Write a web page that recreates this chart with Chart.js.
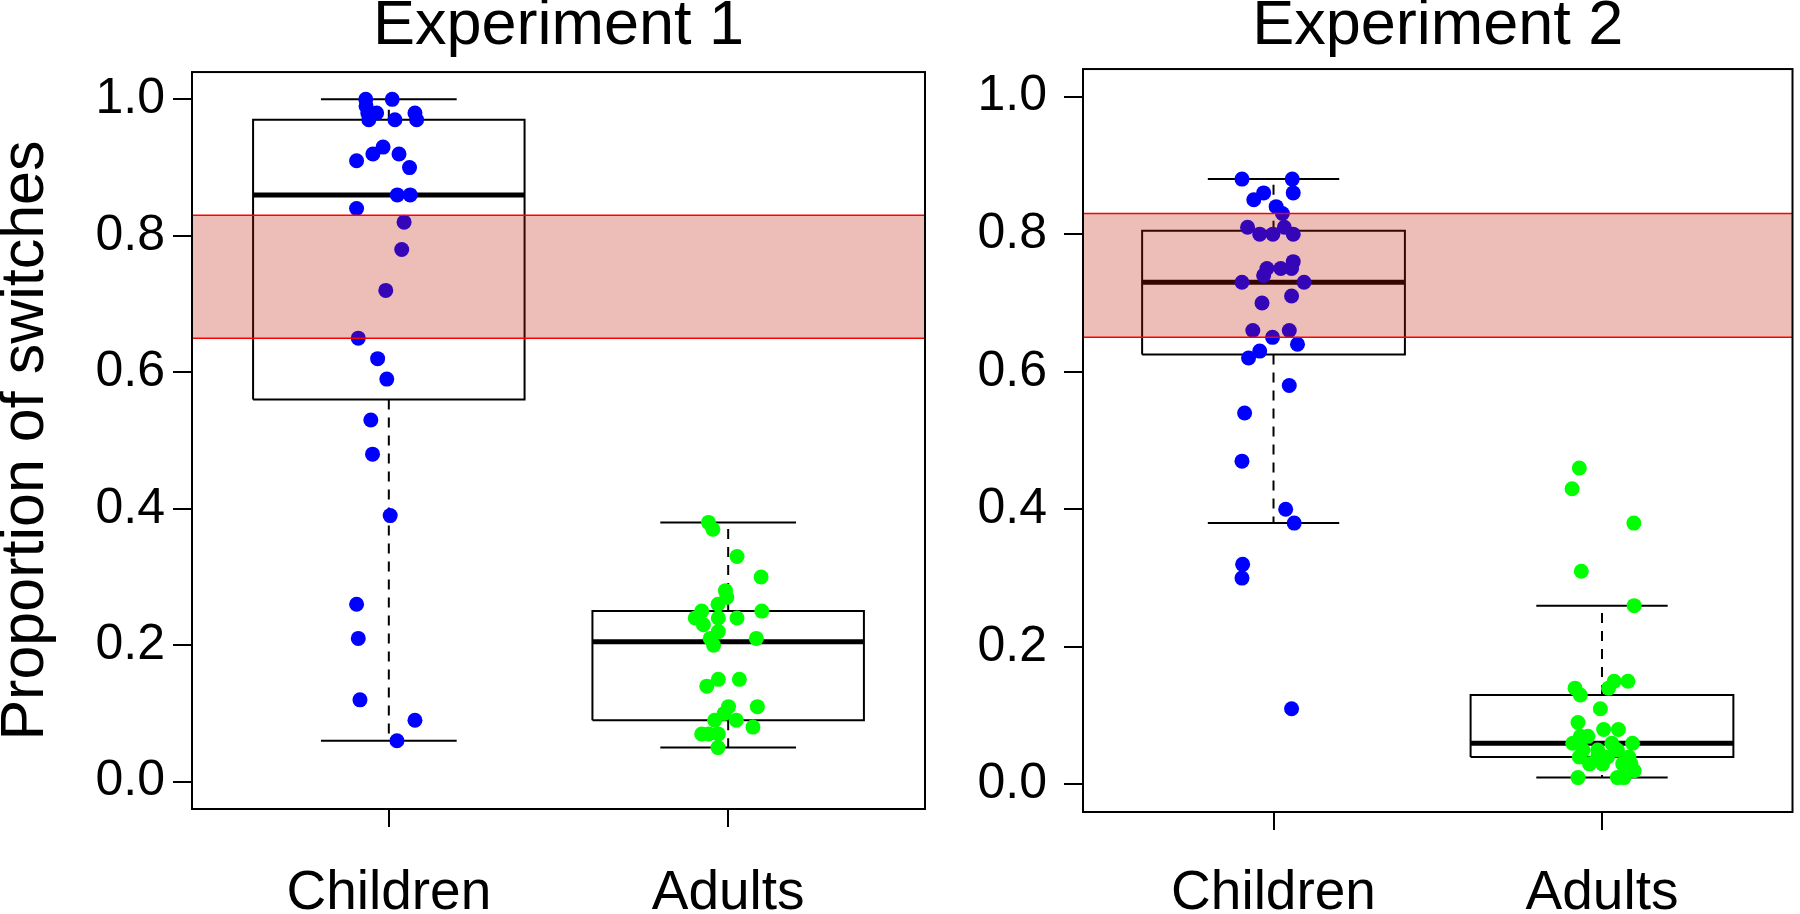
<!DOCTYPE html>
<html lang="en">
<head>
<meta charset="UTF-8">
<title>Proportion of switches – Experiments 1 and 2</title>
<script src="https://cdn.jsdelivr.net/npm/chart.js"></script>
<style>
  html, body { margin: 0; padding: 0; background: #fff; }
  body { width: 1800px; height: 914px; position: relative; overflow: hidden; }
  .panel { position: absolute; top: 0; }
  #p1 { left: 0; }
  #p2 { left: 940px; }
</style>
</head>
<body>

<div class="panel" id="p1"><canvas id="exp1" width="940" height="914"></canvas></div>
<div class="panel" id="p2"><canvas id="exp2" width="860" height="914"></canvas></div>

<script>
    const categories = ["Children", "Adults"];
    const yTicks = [0, 0.2, 0.4, 0.6, 0.8, 1.0];
    const band = [0.65, 0.83];   // lower, upper
    const xMin = 0.42, xMax = 2.58;

    // Experiment 1 – children
    const exp1ChildY = [1.00, 1.00, 0.99, 0.98, 0.98, 0.97, 0.97, 0.98, 0.97, 0.93, 0.92, 0.92, 0.91, 0.90, 0.86, 0.86,
                        0.84, 0.82, 0.78, 0.72, 0.65, 0.62, 0.59, 0.53, 0.48, 0.39, 0.26, 0.21, 0.12, 0.09, 0.06];
    const exp1ChildJit = [-0.068, 0.010, -0.067, -0.062, -0.036, -0.059, 0.018, 0.077, 0.082, -0.017, -0.047, 0.030, -0.095, 0.061, 0.025, 0.063,
                          -0.095, 0.045, 0.038, -0.009, -0.090, -0.033, -0.006, -0.053, -0.048, 0.004, -0.095, -0.090, -0.085, 0.077, 0.024];
    const exp1ChildBox = [0.06, 0.56, 0.86, 0.97, 1.00];   // whisker low, q1, median, q3, whisker high

    // Experiment 1 – adults
    const exp1AdultY = [0.38, 0.37, 0.33, 0.30, 0.28, 0.27, 0.26, 0.25, 0.25, 0.24, 0.24, 0.24, 0.23, 0.22, 0.21,
                        0.21, 0.20, 0.15, 0.14, 0.15, 0.11, 0.11, 0.10, 0.09, 0.09, 0.08, 0.07, 0.07, 0.07, 0.05];
    const exp1AdultJit = [-0.058, -0.045, 0.026, 0.097, -0.008, -0.004, -0.030, -0.078, 0.099, -0.097, -0.029, 0.026, -0.073, -0.029, -0.053,
                          0.083, -0.043, -0.029, -0.063, 0.033, 0.001, 0.086, -0.012, -0.040, 0.024, 0.073, -0.078, -0.058, -0.029, -0.030];
    const exp1AdultBox = [0.05, 0.09, 0.205, 0.25, 0.38];

    // Experiment 2 – children
    const exp2ChildY = [0.88, 0.88, 0.86, 0.85, 0.86, 0.84, 0.83, 0.81, 0.81, 0.80, 0.80, 0.80, 0.76, 0.75, 0.75, 0.75, 0.74, 0.73,
                        0.73, 0.71, 0.70, 0.66, 0.66, 0.65, 0.64, 0.63, 0.62, 0.58, 0.54, 0.47, 0.40, 0.38, 0.32, 0.30, 0.11];
    const exp2ChildJit = [-0.096, 0.057, -0.030, -0.060, 0.060, 0.008, 0.027, -0.079, 0.033, -0.042, -0.002, 0.060, 0.060, -0.020, 0.022, 0.055, -0.030, -0.096,
                          0.093, 0.055, -0.035, -0.063, 0.048, -0.003, 0.073, -0.042, -0.076, 0.048, -0.088, -0.096, 0.037, 0.063, -0.094, -0.096, 0.055];
    const exp2ChildBox = [0.38, 0.625, 0.73, 0.805, 0.88];

    // Experiment 2 – adults
    const exp2AdultY = [0.46, 0.43, 0.38, 0.31, 0.26, 0.14, 0.13, 0.15, 0.15, 0.14, 0.11, 0.09, 0.08, 0.08, 0.07, 0.07, 0.06,
                        0.05, 0.06, 0.06, 0.05, 0.04, 0.03, 0.03, 0.04, 0.04, 0.03, 0.03, 0.02, 0.01, 0.01, 0.01, 0.05, 0.04];
    const exp2AdultJit = [-0.069, -0.091, 0.097, -0.063, 0.098, -0.082, -0.066, 0.037, 0.079, 0.020, -0.005, -0.073, 0.005, 0.050, -0.043, -0.066, -0.089,
                          -0.013, 0.030, 0.093, 0.047, -0.069, -0.038, 0.002, 0.017, 0.082, 0.088, 0.063, 0.098, -0.073, 0.047, 0.067, -0.058, -0.013];
    const exp2AdultBox = [0.01, 0.04, 0.06, 0.13, 0.26];

    Chart.defaults.font.family = "'Liberation Sans', Arial, Helvetica, sans-serif";
    Chart.defaults.color = "#000";

    // plain black line segment in data units
    function seg(x1, y1, x2, y2, extra) {
        return Object.assign({
            type: 'line',
            data: [{ x: x1, y: y1 }, { x: x2, y: y2 }],
            borderColor: "#000", borderWidth: 2, borderCapStyle: 'butt',
            pointRadius: 0, pointHoverRadius: 0, fill: false, order: 2
        }, extra || {});
    }

    function boxDatasets(pos, s) {
        const [lo, q1, med, q3, hi] = s;
        return [
            seg(pos, q3, pos, hi, { borderDash: [10, 8] }),
            seg(pos, q1, pos, lo, { borderDash: [10, 8] }),
            seg(pos - 0.2, hi, pos + 0.2, hi),
            seg(pos - 0.2, lo, pos + 0.2, lo),
            {
                type: 'line',
                data: [{ x: pos - 0.4, y: q1 }, { x: pos + 0.4, y: q1 }, { x: pos + 0.4, y: q3 },
                       { x: pos - 0.4, y: q3 }, { x: pos - 0.4, y: q1 }],
                borderColor: "#000", borderWidth: 2, borderJoinStyle: 'miter',
                pointRadius: 0, pointHoverRadius: 0, fill: false, order: 2
            },
            seg(pos - 0.4, med, pos + 0.4, med, { borderWidth: 5 })
        ];
    }

    function pointsDataset(pos, ys, jit, color) {
        return {
            type: 'scatter',
            data: ys.map((y, i) => ({ x: pos + jit[i], y: y })),
            backgroundColor: color, borderWidth: 0,
            pointRadius: 7.5, pointHoverRadius: 7.5, order: 1
        };
    }

    function bandDatasets() {
        return [
            { type: 'line', data: [{ x: xMin, y: band[1] }, { x: xMax, y: band[1] }],
              borderColor: "#ff0000", borderWidth: 1.5, pointRadius: 0, fill: false, order: 0 },
            { type: 'line', data: [{ x: xMin, y: band[0] }, { x: xMax, y: band[0] }],
              borderColor: "#ff0000", borderWidth: 1.5, pointRadius: 0,
              fill: '-1', backgroundColor: "rgba(190,20,0,0.28)", order: 0 }
        ];
    }

    // box round the plot region, as R draws it
    const frame = {
        id: 'frame',
        afterDraw(chart) {
            const { ctx, chartArea: a } = chart;
            ctx.save();
            ctx.strokeStyle = "#000";
            ctx.lineWidth = 2;
            ctx.strokeRect(a.left, a.top, a.right - a.left, a.bottom - a.top);
            ctx.restore();
        }
    };

    function makePanel(id, title, childY, childJit, childBox, adultY, adultJit, adultBox, lay) {
        const datasets = [].concat(
            bandDatasets(),
            pointsDataset(1, childY, childJit, "#0000ff"),
            pointsDataset(2, adultY, adultJit, "#00ff00"),
            boxDatasets(1, childBox),
            boxDatasets(2, adultBox)
        );
        new Chart(document.getElementById(id), {
            type: 'scatter',
            data: { datasets: datasets },
            plugins: [frame],
            options: {
                responsive: false,
                animation: false,
                layout: { padding: { left: 0, right: lay.right, top: 0, bottom: 0 } },
                plugins: {
                    legend: { display: false },
                    tooltip: { enabled: false },
                    title: {
                        display: true, text: title, fullSize: false, color: "#000",
                        font: { size: 63, weight: 'normal', lineHeight: 0.85 },
                        padding: { top: 0, bottom: lay.titleGap }
                    }
                },
                scales: {
                    x: {
                        type: 'linear', min: xMin, max: xMax,
                        afterBuildTicks: s => { s.ticks = categories.map((c, i) => ({ value: i + 1 })); },
                        afterFit: s => { s.height = lay.xHeight; },
                        ticks: { callback: v => categories[v - 1], font: { size: 55 }, padding: lay.xPad,
                                 maxRotation: 0, autoSkip: false },
                        grid: { drawOnChartArea: false, tickLength: 18, color: "#000", lineWidth: 2 },
                        border: { display: false }
                    },
                    y: {
                        min: -0.04, max: 1.04,
                        afterBuildTicks: s => { s.ticks = yTicks.map(v => ({ value: v })); },
                        afterFit: s => { s.width = lay.yWidth; },
                        ticks: { callback: v => v.toFixed(1), font: { size: 50 }, padding: lay.yPad },
                        grid: { drawOnChartArea: false, tickLength: 19, color: "#000", lineWidth: 2 },
                        border: { display: false },
                        title: { display: lay.yTitle, text: "Proportion of switches",
                                 font: { size: 61, lineHeight: 0.85 }, padding: { top: 0, bottom: 0 } }
                    }
                }
            }
        });
    }

    makePanel("exp1", "Experiment 1", exp1ChildY, exp1ChildJit, exp1ChildBox, exp1AdultY, exp1AdultJit, exp1AdultBox,
              { right: 15, titleGap: 18.5, xHeight: 105, xPad: 34, yWidth: 192, yPad: 8, yTitle: true });
    makePanel("exp2", "Experiment 2", exp2ChildY, exp2ChildJit, exp2ChildBox, exp2AdultY, exp2AdultJit, exp2AdultBox,
              { right: 2, titleGap: 15.5, xHeight: 102, xPad: 31, yWidth: 143, yPad: 17, yTitle: false });
</script>

</body>
</html>
